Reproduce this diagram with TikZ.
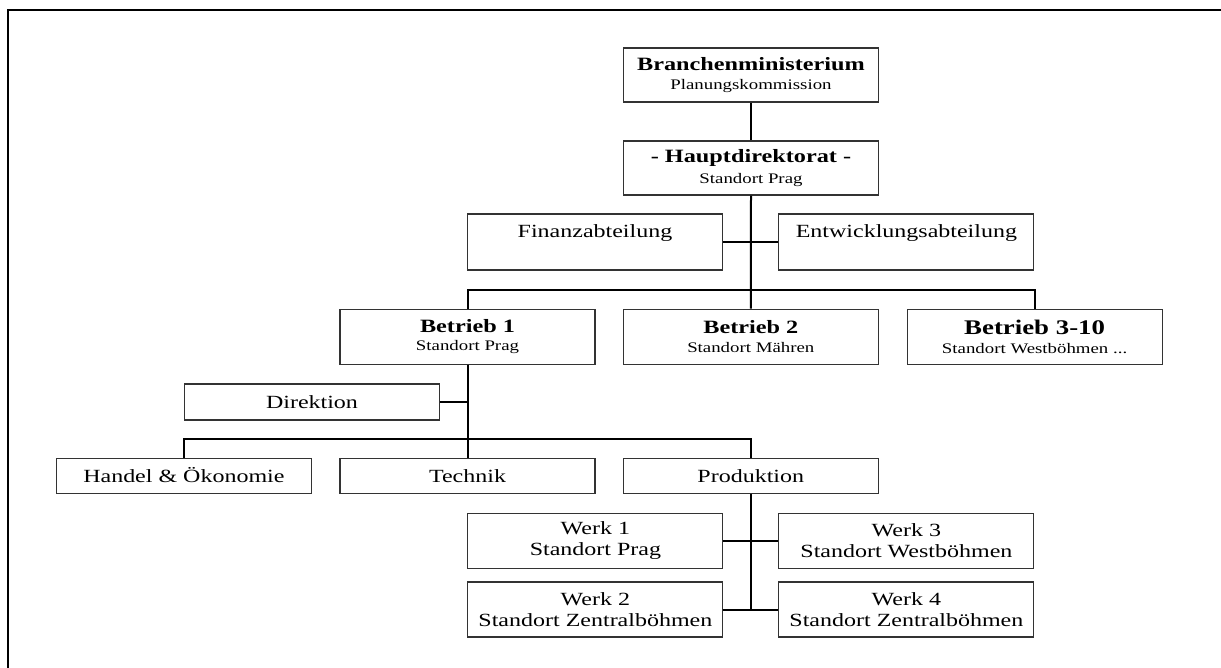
\documentclass[tikz,border=0pt]{standalone}
\usepackage{fontspec}
\setmainfont[FakeStretch=1.29]{Liberation Serif}
\usepackage{tikz}
\newcommand\normaltext{\fontsize{9.3}{10.5}\selectfont}
\newcommand\kleintext{\fontsize{7.3}{9}\selectfont}

\begin{document}
\begin{tikzpicture}[x=0.5pt, y=-0.5pt,
    kasten/.style={draw=black!80, line width=0.55pt, minimum width=127.5pt,
      minimum height=27.5pt, inner sep=0pt, align=center, font=\normaltext},
    flach/.style={kasten, minimum height=17.5pt, text height=6.4pt, text depth=0pt},
    leiter/.style={kasten, font=\fontsize{9.4}{9.3}\selectfont\bfseries},
    linie/.style={line width=1pt}]
        \useasboundingbox (0,0) rectangle (1221,668);
        \draw[line width=1pt] (7.8,668) -- (7.8,10) -- (1221,10);

        % Leitung
        \node[leiter, minimum height=27pt] (ministerium) at (751,75) {Branchenministerium\\{\mdseries\kleintext Planungskommission}};
        \node[leiter, minimum height=27pt] (hauptdir) at (751,168) {- Hauptdirektorat -\\[1.2pt]{\mdseries\kleintext Standort Prag}};
        \node[kasten, minimum height=28pt, font=\fontsize{9.3}{11}\selectfont] (finanz) at (595,242) {Finanzabteilung\\\mbox{}};
        \node[kasten, minimum height=28pt, font=\fontsize{9.3}{11}\selectfont] (entwicklung) at (906.4,242) {Entwicklungsabteilung\\\mbox{}};

        % Betriebe
        \node[leiter] (betrieb1) at (467.5,336.6) {Betrieb 1\\{\mdseries\kleintext Standort Prag}};
        \node[leiter] (betrieb2) at (750.8,336.6) {Betrieb 2\\{\mdseries\kleintext Standort Mähren}};
        \node[leiter] (betrieb3) at (1034.6,336.6) {{\fontsize{10.4}{9.3}\selectfont Betrieb 3-10}\\{\mdseries\kleintext Standort Westböhmen ...}};

        % Abteilungen Betrieb 1
        \node[flach, minimum height=18pt] (direktion) at (312,402) {Direktion};
        \node[flach] (handel) at (183.9,475.8) {Handel \& Ökonomie};
        \node[flach] (technik) at (467.5,475.8) {Technik};
        \node[flach] (produktion) at (750.8,475.8) {Produktion};

        % Werke
        \node[kasten] (werk1) at (595.4,540.8) {Werk 1\\Standort Prag};
        \node[kasten] (werk2) at (595.4,609.5) {Werk 2\\Standort Zentralböhmen};
        \node[kasten] (werk3) at (906.4,540.8) {Werk 3\\Standort Westböhmen};
        \node[kasten] (werk4) at (906.4,609.5) {Werk 4\\Standort Zentralböhmen};

        % Verbindungen
        \coordinate (schiene1) at (751,290);
        \coordinate (schiene2) at (467.5,439.3);
        \draw[linie] (ministerium.south) -- (hauptdir.north);
        \draw[linie] (hauptdir.south) -- (betrieb2.north);
        \draw[linie] (finanz) -- (entwicklung);
        \draw[linie] (betrieb1.north) |- (schiene1) -| (betrieb3.north);
        \draw[linie] (betrieb1.south) -- (technik.north);
        \draw[linie] (direktion.east) -- (direktion.east -| betrieb1.south);
        \draw[linie] (handel.north) |- (schiene2) -| (produktion.north);
        \draw[linie] (produktion.south) -- (produktion.south |- werk2.east);
        \draw[linie] (werk1) -- (werk3);
        \draw[linie] (werk2) -- (werk4);
\end{tikzpicture}
\end{document}
